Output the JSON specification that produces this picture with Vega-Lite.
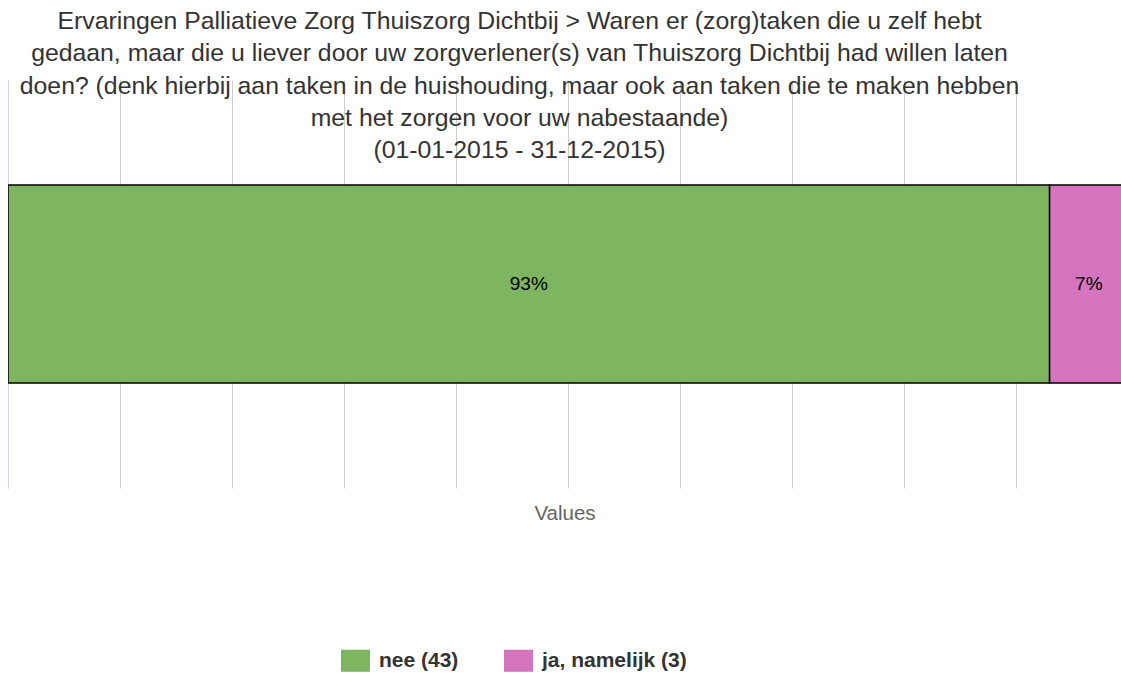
{
  "$schema": "https://vega.github.io/schema/vega-lite/v6.json",
  "autosize": {"type": "none"},
  "width": 1113,
  "height": 408,
  "padding": {"left": 8, "top": 80, "right": 0, "bottom": 188},
  "background": "white",
  "title": {
    "text": [
      "Ervaringen Palliatieve Zorg Thuiszorg Dichtbij > Waren er (zorg)taken die u zelf hebt",
      "gedaan, maar die u liever door uw zorgverlener(s) van Thuiszorg Dichtbij had willen laten",
      "doen? (denk hierbij aan taken in de huishouding, maar ook aan taken die te maken hebben",
      "met het zorgen voor uw nabestaande)",
      "(01-01-2015 - 31-12-2015)"
    ],
    "anchor": "middle",
    "frame": "group",
    "orient": "top",
    "baseline": "alphabetic",
    "offset": 53,
    "dy": 156,
    "dx": -45,
    "font": "Liberation Sans",
    "fontSize": 24.8,
    "fontWeight": "normal",
    "color": "#333333",
    "lineHeight": 32.25
  },
  "data": {
    "values": [
      {"row": "q", "answer": "nee (43)", "count": 43, "pct": 93, "pctLabel": "93%"},
      {"row": "q", "answer": "ja, namelijk (3)", "count": 3, "pct": 7, "pctLabel": "7%"}
    ]
  },
  "transform": [
    {"stack": "pct", "groupby": ["row"], "sort": [{"field": "count", "order": "descending"}], "as": ["x0", "x1"]}
  ],
  "encoding": {
    "y": {
      "field": "row",
      "type": "nominal",
      "scale": {"paddingInner": 0.347, "paddingOuter": 0.347},
      "axis": {"labels": false, "ticks": false, "title": null, "domainColor": "#ccd6eb", "domainWidth": 1, "grid": false}
    }
  },
  "layer": [
    {
      "mark": {"type": "bar", "clip": true, "stroke": "#000000", "strokeWidth": 1.5},
      "encoding": {
        "x": {
          "field": "x0",
          "type": "quantitative",
          "scale": {"domain": [0, 99.375], "nice": false, "zero": true},
          "axis": {
            "values": [0, 10, 20, 30, 40, 50, 60, 70, 80, 90],
            "grid": true,
            "gridColor": "#cccccc",
            "gridWidth": 1,
            "labels": false,
            "ticks": false,
            "domain": false,
            "title": "Values",
            "titleColor": "#666666",
            "titleFont": "Liberation Sans",
            "titleFontSize": 20.5,
            "titleFontWeight": "normal",
            "titlePadding": 15
          }
        },
        "x2": {"field": "x1"},
        "color": {
          "field": "answer",
          "type": "nominal",
          "scale": {"domain": ["nee (43)", "ja, namelijk (3)"], "range": ["#7eb560", "#d575c0"]},
          "legend": {
            "orient": "none",
            "legendX": 333,
            "legendY": 566,
            "direction": "horizontal",
            "title": null,
            "symbolType": "M-1,-0.76H1V0.76H-1Z",
            "symbolSize": 841,
            "symbolStrokeWidth": 0,
            "symbolOpacity": 1,
            "labelFont": "Liberation Sans",
            "labelFontSize": 21,
            "labelFontWeight": "bold",
            "labelColor": "#333333",
            "labelOffset": 9,
            "columnPadding": 45,
            "labelLimit": 400
          }
        }
      }
    },
    {
      "transform": [{"fold": ["x0", "x1"], "as": ["edge", "edgeValue"]}],
      "mark": {"type": "text", "font": "Liberation Sans", "fontSize": 19, "color": "#000000", "baseline": "middle", "align": "center"},
      "encoding": {
        "x": {"field": "edgeValue", "aggregate": "mean", "type": "quantitative"},
        "text": {"field": "pctLabel", "type": "nominal"}
      }
    }
  ],
  "config": {"view": {"stroke": null}}
}
